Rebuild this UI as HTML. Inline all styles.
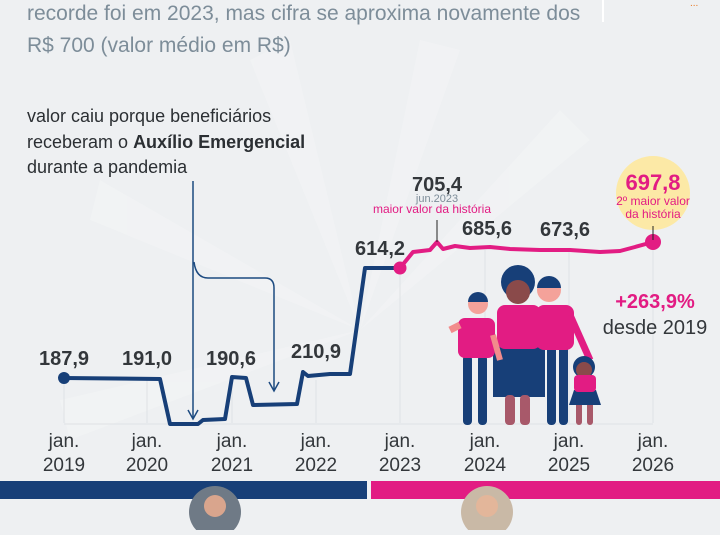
<!DOCTYPE html>
<html><head><meta charset="utf-8"><style>
body{margin:0;width:720px;height:530px;overflow:hidden;background:#eef0f2;font-family:"Liberation Sans",sans-serif}
</style></head><body>
<svg width="720" height="530" xmlns="http://www.w3.org/2000/svg" font-family="Liberation Sans, sans-serif">
<rect width="720" height="530" fill="#eef0f2"/>
<g fill="#f4f5f6" opacity="0.5">
<polygon points="360,330 250,60 290,40"/>
<polygon points="360,330 420,40 460,50"/>
<polygon points="360,330 560,110 590,140"/>
<polygon points="360,330 100,180 90,220"/>
<polygon points="360,330 60,400 70,440"/>
</g>
<line x1="603" y1="0" x2="603" y2="22" stroke="#fff" stroke-width="2"/>
<text x="690" y="6" fill="#e87722" font-size="10">...</text>
<g fill="#7d8d99" font-size="21">
<text x="27" y="20">recorde foi em 2023, mas cifra se aproxima novamente dos</text>
<text x="27" y="52">R$ 700 (valor médio em R$)</text>
</g>
<g fill="#2b2f33" font-size="18">
<text x="27" y="122">valor caiu porque beneficiários</text>
<text x="27" y="148">receberam o <tspan font-weight="bold">Auxílio Emergencial</tspan></text>
<text x="27" y="173">durante a pandemia</text>
</g>
<g stroke="#dfe2e5" stroke-width="1">
<line x1="64" y1="380" x2="64" y2="423"/><line x1="147" y1="380" x2="147" y2="423"/>
<line x1="232" y1="380" x2="232" y2="423"/><line x1="316" y1="380" x2="316" y2="423"/>
<line x1="400" y1="268" x2="400" y2="423"/><line x1="485" y1="250" x2="485" y2="423"/>
<line x1="569" y1="250" x2="569" y2="423"/><line x1="653" y1="250" x2="653" y2="423"/>
<line x1="64" y1="424" x2="653" y2="424"/>
</g>
<g stroke="#1c4a80" stroke-width="1.5" fill="none">
<path d="M193 181 V418"/><path d="M188 410 L193 419 L198 410"/>
<path d="M194 262 Q196 278 208 278 H265 Q274 278 274 288 V390"/><path d="M269 382 L274 391 L279 382"/>
</g>
<polyline fill="none" stroke="#173f78" stroke-width="4" stroke-linejoin="round" points="64,378 160,379 170,424 198,424 203,420 225,419 232,377 246,378 253,405 297,404 303,372 308,376 330,374 350,374 365,268 400,268"/>
<polyline fill="none" stroke="#e21c83" stroke-width="4" stroke-linejoin="round" points="400,268 413,252 430,250 437,242 443,249 455,246 470,248 490,247 510,249 540,250 570,250 600,252 620,251 635,247 653,242"/>
<circle cx="64" cy="378" r="6" fill="#173f78"/>
<circle cx="400" cy="268" r="6.5" fill="#e21c83"/>
<circle cx="653" cy="242" r="8" fill="#e21c83"/>
<g fill="#33373b" font-size="20" font-weight="bold" text-anchor="middle">
<text x="64" y="365">187,9</text><text x="147" y="365">191,0</text><text x="231" y="365">190,6</text>
<text x="316" y="358">210,9</text><text x="380" y="255">614,2</text>
<text x="437" y="191">705,4</text><text x="487" y="235">685,6</text><text x="565" y="236">673,6</text>
</g>
<text x="437" y="202" fill="#7d8d99" font-size="11" text-anchor="middle">jun.2023</text>
<text x="432" y="213" fill="#e21c83" font-size="12" text-anchor="middle">maior valor da história</text>
<line x1="437" y1="220" x2="437" y2="242" stroke="#222" stroke-width="1"/>
<circle cx="653" cy="193" r="37" fill="#fce9a6"/>
<text x="653" y="190" fill="#e21c83" font-size="22" font-weight="bold" text-anchor="middle">697,8</text>
<text x="653" y="205" fill="#e21c83" font-size="12" text-anchor="middle">2º maior valor</text>
<text x="653" y="218" fill="#e21c83" font-size="12" text-anchor="middle">da história</text>
<line x1="653" y1="226" x2="653" y2="240" stroke="#222" stroke-width="1"/>
<text x="655" y="308" fill="#e21c83" font-size="20" font-weight="bold" text-anchor="middle">+263,9%</text>
<text x="655" y="334" fill="#33373b" font-size="20" text-anchor="middle">desde 2019</text>
<g fill="#33373b" font-size="19" text-anchor="middle">
<text x="64" y="447">jan.</text><text x="64" y="471">2019</text>
<text x="147" y="447">jan.</text><text x="147" y="471">2020</text>
<text x="232" y="447">jan.</text><text x="232" y="471">2021</text>
<text x="316" y="447">jan.</text><text x="316" y="471">2022</text>
<text x="400" y="447">jan.</text><text x="400" y="471">2023</text>
<text x="485" y="447">jan.</text><text x="485" y="471">2024</text>
<text x="569" y="447">jan.</text><text x="569" y="471">2025</text>
<text x="653" y="447">jan.</text><text x="653" y="471">2026</text>
</g>
<g>
<rect x="493" y="345" width="52" height="52" fill="#173f78"/>
<rect x="505" y="395" width="10" height="30" rx="4" fill="#a8596a"/><rect x="520" y="395" width="10" height="30" rx="4" fill="#a8596a"/>
<rect x="497" y="305" width="44" height="44" rx="8" fill="#e21c83"/>
<circle cx="518" cy="282" r="17" fill="#173f78"/><circle cx="518" cy="292" r="12" fill="#8a4a4a"/>
<rect x="547" y="345" width="9" height="80" rx="4" fill="#173f78"/><rect x="559" y="345" width="9" height="80" rx="4" fill="#173f78"/>
<rect x="536" y="305" width="38" height="45" rx="8" fill="#e21c83"/>
<path d="M570 315 L590 360" stroke="#e21c83" stroke-width="7"/>
<circle cx="549" cy="290" r="12" fill="#f4a29a"/><path d="M537 288 a12 12 0 0 1 24 0 z" fill="#173f78"/>
<rect x="463" y="355" width="9" height="70" rx="4" fill="#173f78"/><rect x="478" y="355" width="9" height="70" rx="4" fill="#173f78"/>
<rect x="458" y="318" width="37" height="40" rx="7" fill="#e21c83"/>
<path d="M460 325 L450 330" stroke="#f28c8c" stroke-width="7"/>
<path d="M493 335 L500 360" stroke="#f28c8c" stroke-width="6"/>
<circle cx="478" cy="304" r="10" fill="#f4a29a"/><path d="M468 302 a10 10 0 0 1 20 0 z" fill="#173f78"/>
<circle cx="584" cy="367" r="11" fill="#173f78"/><circle cx="584" cy="370" r="8" fill="#8a4a4a"/>
<rect x="576" y="400" width="6" height="25" rx="3" fill="#a8596a"/><rect x="587" y="400" width="6" height="25" rx="3" fill="#a8596a"/>
<polygon points="574,390 596,390 601,405 569,405" fill="#173f78"/>
<rect x="574" y="375" width="22" height="17" rx="4" fill="#e21c83"/>
</g>
<rect x="0" y="481" width="367" height="18" fill="#173f78"/>
<rect x="371" y="481" width="349" height="18" fill="#e21c83"/>
<circle cx="215" cy="512" r="26" fill="#6f7a86"/><circle cx="215" cy="506" r="11" fill="#d9a58d"/>
<circle cx="487" cy="512" r="26" fill="#c9b9a6"/><circle cx="487" cy="506" r="11" fill="#e3b69a"/>
</svg>
</body></html>
